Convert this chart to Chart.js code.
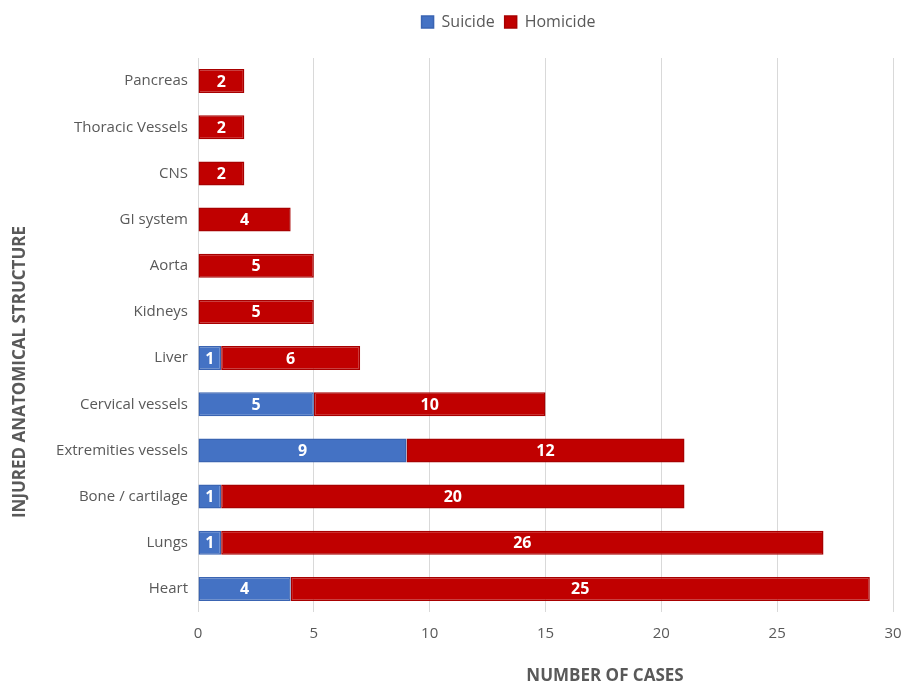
<!DOCTYPE html>
<html>
<head>
<meta charset="utf-8">
<script src="https://cdn.jsdelivr.net/npm/chart.js@4"></script>
<style>
  html, body { margin: 0; padding: 0; background: #fff; }
  #wrap { width: 903px; height: 687px; }
</style>
</head>
<body>
<div id="wrap"><canvas id="barChart" width="903" height="687"></canvas></div>
<script>
const structures = ["Pancreas", "Thoracic Vessels", "CNS", "GI system", "Aorta", "Kidneys",
    "Liver", "Cervical vessels", "Extremities vessels", "Bone / cartilage", "Lungs", "Heart"];
const suicide = [0, 0, 0, 0, 0, 0, 1, 5, 9, 1, 1, 4];
const homicide = [2, 2, 2, 4, 5, 5, 6, 10, 12, 20, 26, 25];
const xTicks = [0, 5, 10, 15, 20, 25, 30];
const xTitle = "NUMBER OF CASES";
const yTitle = "INJURED ANATOMICAL STRUCTURE";

const fontName = "'Open Sans', 'DejaVu Sans', sans-serif";
const grey = "#595959";

// white numbers in the middle of each segment
const barLabels = {
    id: "barLabels",
    afterDatasetsDraw(chart) {
        const ctx = chart.ctx;
        ctx.save();
        ctx.fillStyle = "#ffffff";
        ctx.font = "bold 16px " + fontName;
        ctx.textAlign = "center";
        ctx.textBaseline = "middle";
        chart.data.datasets.forEach((ds, i) => {
            chart.getDatasetMeta(i).data.forEach((bar, j) => {
                const v = ds.data[j];
                if (!v) return;
                const mid = (bar.x + bar.base) / 2;
                ctx.fillText(String(v), mid, bar.y + 1);
            });
        });
        ctx.restore();
    }
};

// extra room under the legend, and legend sits right of centre like the original
const legendGap = {
    id: "legendGap",
    beforeInit(chart) {
        const fit = chart.legend.fit;
        chart.legend.fit = function () {
            fit.call(this);
            this.height += 18;
        };
    },
    afterLayout(chart) {
        chart.legend.left += 124;
    }
};

// axis titles, placed off-centre the way the source chart has them
const axisTitles = {
    id: "axisTitles",
    afterDraw(chart) {
        const ctx = chart.ctx;
        ctx.save();
        ctx.fillStyle = grey;
        ctx.font = "bold 17px " + fontName;
        ctx.textAlign = "center";
        ctx.textBaseline = "middle";
        ctx.fillText(xTitle, 605, 676);
        ctx.translate(20, 372);
        ctx.rotate(-Math.PI / 2);
        ctx.fillText(yTitle, 0, 0);
        ctx.restore();
    }
};

new Chart(document.getElementById("barChart"), {
    type: "bar",
    data: {
        labels: structures,
        datasets: [
            {
                label: "Suicide",
                data: suicide,
                backgroundColor: "#4472C4",
                borderColor: "#3A64B2",
                borderWidth: 1.5,
                borderSkipped: false,
                barPercentage: 0.52,
                categoryPercentage: 1
            },
            {
                label: "Homicide",
                data: homicide,
                backgroundColor: "#C00000",
                borderColor: "#A80000",
                borderWidth: 1.5,
                borderSkipped: false,
                barPercentage: 0.52,
                categoryPercentage: 1
            }
        ]
    },
    options: {
        indexAxis: "y",
        responsive: false,
        animation: false,
        layout: { padding: { top: 4, right: 10, left: 0, bottom: 0 } },
        plugins: {
            legend: {
                position: "top",
                labels: {
                    color: grey,
                    font: { family: fontName, size: 16 },
                    boxWidth: 12,
                    boxHeight: 12,
                    padding: 10
                }
            },
            tooltip: { enabled: false }
        },
        scales: {
            x: {
                stacked: true,
                min: 0,
                max: 30,
                afterBuildTicks: scale => { scale.ticks = xTicks.map(v => ({ value: v })); },
                afterFit: scale => {
                    scale.height = 75;
                    scale.paddingRight = 0;
                    scale.paddingLeft = 0;
                },
                grid: { color: "#D9D9D9", drawTicks: false, lineWidth: 1 },
                border: { display: false },
                ticks: {
                    color: grey,
                    font: { family: fontName, size: 15 },
                    padding: 13
                }
            },
            y: {
                stacked: true,
                afterFit: scale => { scale.width = 198; },
                grid: { display: false, drawTicks: false },
                border: { display: false },
                ticks: {
                    color: grey,
                    font: { family: fontName, size: 15 },
                    padding: 10
                }
            }
        }
    },
    plugins: [barLabels, legendGap, axisTitles]
});
</script>
</body>
</html>
